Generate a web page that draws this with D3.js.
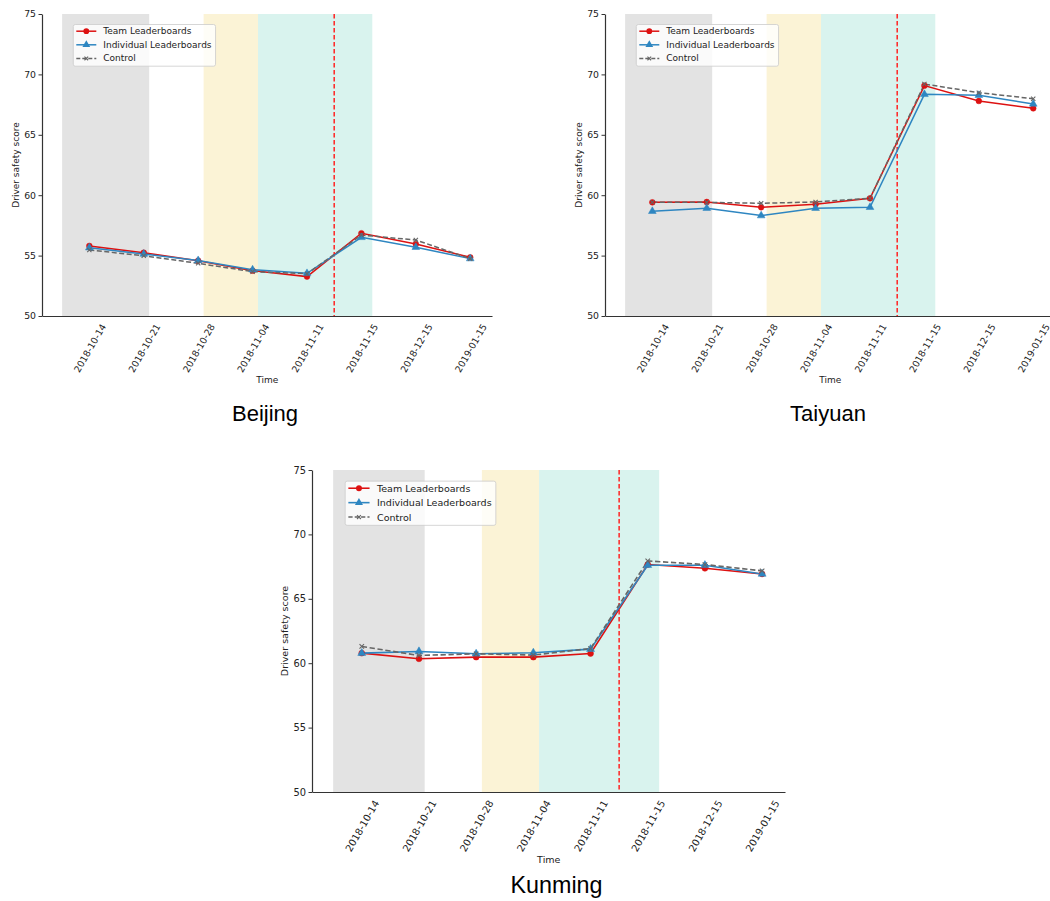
<!DOCTYPE html>
<html>
  <head>
    <title>Driver safety score by city</title>
    <script src="https://d3js.org/d3.v7.min.js"></script>
    <style>
      body { margin: 0; background: #fff; }
      svg text { font-family: "DejaVu Sans", sans-serif; fill: #222; }
      .city { font-family: "Liberation Sans", Arial, sans-serif; fill: #000; }
    </style>
  </head>
  <body>
    <svg id="chart" width="1050" height="901"></svg>
    <script>
// Data
var dates = ["2018-10-14", "2018-10-21", "2018-10-28", "2018-11-04",
             "2018-11-11", "2018-11-15", "2018-12-15", "2019-01-15"];
var seriesNames = ["Team Leaderboards", "Individual Leaderboards", "Control"];
var cities = ["Beijing", "Taiyuan", "Kunming"];

var beijingTeam       = [55.8, 55.24, 54.58, 53.75, 53.26, 56.85, 55.96, 54.86];
var beijingIndividual = [55.65, 55.13, 54.6, 53.83, 53.53, 56.51, 55.69, 54.75];
var beijingControl    = [55.46, 54.99, 54.36, 53.67, 53.5, 56.7, 56.29, 54.75];

var taiyuanTeam       = [59.41, 59.44, 59.0, 59.25, 59.74, 69.07, 67.8, 67.19];
var taiyuanIndividual = [58.67, 58.92, 58.31, 58.92, 59.0, 68.35, 68.27, 67.55];
var taiyuanControl    = [59.41, 59.41, 59.33, 59.44, 59.74, 69.2, 68.49, 67.99];

var kunmingTeam       = [60.78, 60.34, 60.47, 60.47, 60.75, 67.66, 67.37, 66.93];
var kunmingIndividual = [60.78, 60.91, 60.73, 60.81, 61.09, 67.61, 67.61, 66.93];
var kunmingControl    = [61.3, 60.6, 60.73, 60.63, 61.14, 67.94, 67.66, 67.17];

// shaded phases (in date-index units) and the launch line
var phaseStart = [-0.5, 2.1, 3.1];
var phaseEnd   = [1.1, 3.1, 5.2];
var launchAt = 4.5;
var yTicks = [50, 55, 60, 65, 70, 75];

// Styles
var phaseColors = ["#e3e3e3", "#fbf3d6", "#d9f3ee"];
var lineColors = ["#dd1111", "#2e86c1", "#666666"];
var markerTypes = [d3.symbolCircle, d3.symbolTriangle, null];

var svg = d3.select("#chart");

// panel boxes: left, top, width, height, scale factor, title offsets
var panels = [
  {city: 0, data: [beijingTeam, beijingIndividual, beijingControl],
   left: 42, top: 14, w: 450, h: 302, s: 1, titleDx: -2, titleDy: 105},
  {city: 1, data: [taiyuanTeam, taiyuanIndividual, taiyuanControl],
   left: 605, top: 14, w: 450, h: 302, s: 1, titleDx: -2, titleDy: 105},
  {city: 2, data: [kunmingTeam, kunmingIndividual, kunmingControl],
   left: 312, top: 470, w: 473, h: 322, s: 1.06, titleDx: 8, titleDy: 101}
];

panels.forEach(drawPanel);

function xMark(r) {
  return "M" + (-r) + ",0L" + r + ",0M0," + (-r) + "L0," + r;
}

function drawPanel(p) {
  var s = p.s;
  var g = svg.append("g").attr("transform", "translate(" + p.left + "," + p.top + ")");

  var x = d3.scaleLinear().domain([-0.87, 7.4]).range([0, p.w]);
  var y = d3.scaleLinear().domain([50, 75]).range([p.h, 0]);

  // phase spans
  g.selectAll(".phase")
    .data(phaseStart)
    .enter().append("rect")
      .attr("class", "phase")
      .attr("x", function (d) { return x(d); })
      .attr("width", function (d, i) { return x(phaseEnd[i]) - x(d); })
      .attr("y", 0)
      .attr("height", p.h)
      .attr("fill", function (d, i) { return phaseColors[i]; });

  // launch marker
  g.append("line")
    .attr("x1", x(launchAt)).attr("x2", x(launchAt))
    .attr("y1", 0).attr("y2", p.h)
    .attr("stroke", "#ff2222")
    .attr("stroke-width", 1.5)
    .attr("stroke-dasharray", "4.5,2.5");

  // series
  var line = d3.line()
    .x(function (d, i) { return x(i); })
    .y(function (d) { return y(d); });

  p.data.forEach(function (vals, k) {
    g.append("path")
      .datum(vals)
      .attr("fill", "none")
      .attr("stroke", lineColors[k])
      .attr("stroke-width", 1.5 * s)
      .attr("stroke-dasharray", k === 2 ? (5 * s) + "," + (2.5 * s) : null)
      .attr("d", line);
  });
  p.data.forEach(function (vals, k) {
    g.selectAll(".m" + k)
      .data(vals)
      .enter().append("path")
        .attr("class", "m" + k)
        .attr("transform", function (d, i) {
          return "translate(" + x(i) + "," + y(d) + ")" + (k === 2 ? " rotate(45)" : "");
        })
        .attr("d", k === 2 ? xMark(3 * s) : d3.symbol().type(markerTypes[k]).size(26 * s))
        .attr("fill", k === 2 ? "none" : lineColors[k])
        .attr("stroke", lineColors[k])
        .attr("stroke-width", k === 2 ? 1.1 : 0.5);
  });

  // y axis
  var yAxis = g.append("g")
    .call(d3.axisLeft(y).tickValues(yTicks).tickSize(3.5).tickSizeOuter(0).tickPadding(2.5));
  yAxis.selectAll("text").style("font-size", (9.3 * s) + "px").attr("fill", "#222");
  yAxis.select(".domain").attr("stroke", "#333").attr("stroke-width", 1.2);
  yAxis.selectAll(".tick line").attr("stroke", "#333");

  // x axis
  var xAxis = g.append("g")
    .attr("transform", "translate(0," + p.h + ")")
    .call(d3.axisBottom(x).tickValues(d3.range(dates.length)).tickSize(0).tickSizeOuter(0)
      .tickFormat(function (i) { return dates[i]; }));
  xAxis.select(".domain").attr("stroke", "#333").attr("stroke-width", 1.2);
  xAxis.selectAll("text")
    .style("font-size", (9.3 * s) + "px")
    .attr("fill", "#222")
    .attr("text-anchor", "middle")
    .attr("dy", null)
    .attr("dominant-baseline", "central")
    .attr("y", 0)
    .attr("transform", "translate(0," + (32 * s) + ") rotate(-60)");

  // labels
  g.append("text")
    .attr("x", x(3.27))
    .attr("y", p.h + 64 * s)
    .attr("text-anchor", "middle")
    .attr("dominant-baseline", "central")
    .style("font-size", (9 * s) + "px")
    .text("Time");
  g.append("text")
    .attr("transform", "translate(" + (-26 * s) + "," + (p.h / 2) + ") rotate(-90)")
    .attr("text-anchor", "middle")
    .attr("dominant-baseline", "central")
    .style("font-size", (9 * s) + "px")
    .text("Driver safety score");

  g.append("text")
    .attr("class", "city")
    .attr("x", p.w / 2 + p.titleDx)
    .attr("y", p.h + p.titleDy)
    .attr("text-anchor", "middle")
    .style("font-size", (22 * s) + "px")
    .text(cities[p.city]);

  // legend
  var lg = g.append("g").attr("transform", "translate(" + (31.3 * s) + "," + (11 * s) + ")");
  var box = lg.append("rect")
    .attr("fill", "#fff").attr("fill-opacity", 0.8)
    .attr("stroke", "#cccccc").attr("stroke-width", 0.8)
    .attr("rx", 2);
  var rowH = 13.6 * s;
  var maxW = 0;
  seriesNames.forEach(function (name, k) {
    var cy = 6.2 * s + rowH * k;
    lg.append("line")
      .attr("x1", 3 * s).attr("x2", 23 * s)
      .attr("y1", cy).attr("y2", cy)
      .attr("stroke", lineColors[k])
      .attr("stroke-width", 1.5 * s)
      .attr("stroke-dasharray", k === 2 ? (4 * s) + "," + (2 * s) : null);
    if (k === 2) {
      lg.append("path")
        .attr("transform", "translate(" + (13 * s) + "," + cy + ") rotate(45)")
        .attr("d", xMark(2.6 * s))
        .attr("stroke", lineColors[k]).attr("stroke-width", 1.1);
    } else {
      lg.append("path")
        .attr("transform", "translate(" + (13 * s) + "," + cy + ")")
        .attr("d", d3.symbol().type(markerTypes[k]).size(26 * s))
        .attr("fill", lineColors[k]);
    }
    var t = lg.append("text")
      .attr("x", 30 * s)
      .attr("y", cy)
      .attr("dominant-baseline", "central")
      .style("font-size", (9 * s) + "px")
      .text(name);
    maxW = Math.max(maxW, t.node().getComputedTextLength());
  });
  box.attr("x", 0).attr("y", -0.5 * s)
    .attr("width", 30 * s + maxW + 4 * s)
    .attr("height", 41.7 * s);
}
    </script>
  </body>
</html>
